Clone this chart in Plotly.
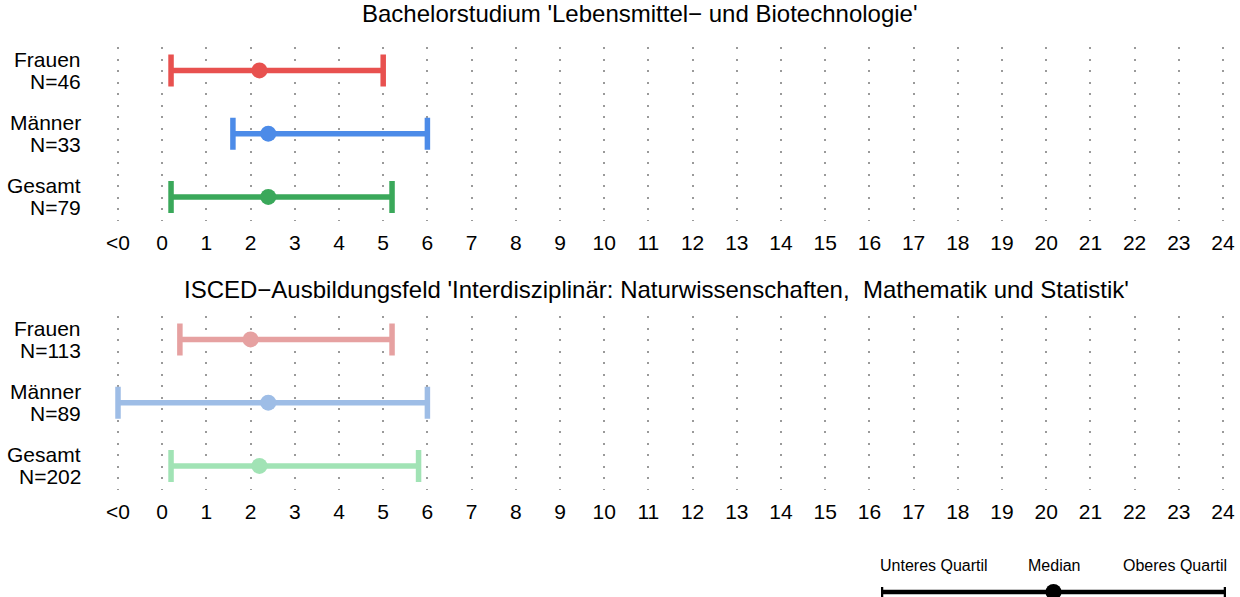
import plotly.graph_objects as go

W, H = 1240, 597

# ---------------- data ----------------
ticks = list(range(-1, 25))
tick_labels = ["<0"] + [str(i) for i in range(0, 25)]

groups = ["Frauen", "Männer", "Gesamt"]

top_title = "Bachelorstudium 'Lebensmittel− und Biotechnologie'"
top_n = [46, 33, 79]
top_lower = [0.2, 1.6, 0.2]
top_median = [2.2, 2.4, 2.4]
top_upper = [5.0, 6.0, 5.2]
top_colors = ["#E8514F", "#4C8BE8", "#3AA85A"]

bot_title = "ISCED−Ausbildungsfeld 'Interdisziplinär: Naturwissenschaften,  Mathematik und Statistik'"
bot_n = [113, 89, 202]
bot_lower = [0.4, -1.0, 0.2]
bot_median = [2.0, 2.4, 2.2]
bot_upper = [5.2, 6.0, 5.8]
bot_colors = ["#E6A1A1", "#9EBDE6", "#A1E3B5"]

legend_labels = ["Unteres Quartil", "Median", "Oberes Quartil"]
legend_vals = [0, 1, 2]

# ---------------- layout helpers ----------------
FONT = "Liberation Sans, Arial, sans-serif"
PX0 = 162.2      # pixel of value 0
PXU = 44.2       # pixels per unit
xr = [-PX0 / PXU, (W - PX0) / PXU]


def py(px):
    return 1 - px / H


def px_x(px):
    return px / W


row_y = [2, 1, 0]
yr = [-0.38, 2.37]

fig = go.Figure()
annotations = []


def add_panel(idx, lower, median, upper, colors, ns, title, dom_top, dom_bot, title_px, title_x):
    xa = "x" if idx == 1 else f"x{idx}"
    ya = "y" if idx == 1 else f"y{idx}"
    for i, g in enumerate(groups):
        fig.add_trace(go.Scatter(
            x=[median[i]], y=[row_y[i]], xaxis=xa, yaxis=ya,
            mode="markers", cliponaxis=False, showlegend=False,
            marker=dict(size=16, color=colors[i]),
            error_x=dict(type="data", symmetric=False,
                         array=[upper[i] - median[i]],
                         arrayminus=[median[i] - lower[i]],
                         color=colors[i], thickness=5.5, width=16),
        ))
        for txt, shift in ((g, 11), (f"N={ns[i]}", -11)):
            annotations.append(dict(
                x=px_x(83), xref="paper", y=row_y[i], yref=ya, yshift=shift,
                text=txt, showarrow=False,
                xanchor="right", yanchor="middle", align="right",
                font=dict(family=FONT, size=21, color="black"),
            ))
    annotations.append(dict(
        x=px_x(title_x), xref="paper", y=py(title_px), yref="paper",
        text=title, showarrow=False, xanchor="center", yanchor="middle",
        font=dict(family=FONT, size=24, color="black"),
    ))
    axis_x = dict(
        domain=[0, 1], range=xr, anchor=ya,
        tickmode="array", tickvals=ticks, ticktext=tick_labels,
        showgrid=True, gridcolor="#9A9A9A", gridwidth=2, griddash="2px,9.5px",
        zeroline=False, showline=False, ticks="",
        tickfont=dict(family=FONT, size=21, color="black"),
        ticklabelstandoff=7, fixedrange=True,
    )
    axis_y = dict(
        domain=[py(dom_bot), py(dom_top)], range=yr, anchor=xa,
        visible=False, showgrid=False, zeroline=False, fixedrange=True,
    )
    if idx == 1:
        fig.update_layout(xaxis=axis_x, yaxis=axis_y)
    else:
        fig.update_layout(**{f"xaxis{idx}": axis_x, f"yaxis{idx}": axis_y})


add_panel(1, top_lower, top_median, top_upper, top_colors, top_n, top_title, 47, 221, 14, 640)
add_panel(2, bot_lower, bot_median, bot_upper, bot_colors, bot_n, bot_title, 316, 490, 289, 657)

# ---------------- key ----------------
fig.add_trace(go.Scatter(
    x=[legend_vals[1]], y=[0], xaxis="x3", yaxis="y3",
    mode="markers", cliponaxis=False, showlegend=False,
    marker=dict(size=16, color="black"),
    error_x=dict(type="data", symmetric=False,
                 array=[legend_vals[2] - legend_vals[1]],
                 arrayminus=[legend_vals[1] - legend_vals[0]],
                 color="black", thickness=4.5, width=16),
))
fig.update_layout(
    xaxis3=dict(domain=[px_x(881), px_x(1226)], range=[legend_vals[0], legend_vals[2]],
                anchor="y3", visible=False, fixedrange=True),
    yaxis3=dict(domain=[0, 10 / H], range=[-1, 1], anchor="x3", visible=False, fixedrange=True),
)
anchors = ["left", "center", "right"]
shifts = [-3, 0, 3]
for lab, v, a, s in zip(legend_labels, legend_vals, anchors, shifts):
    annotations.append(dict(
        x=v, xref="x3", y=py(565), yref="paper", text=lab, showarrow=False,
        xanchor=a, yanchor="middle", xshift=s,
        font=dict(family=FONT, size=16, color="black"),
    ))

fig.update_layout(
    width=W, height=H, autosize=False,
    margin=dict(l=0, r=0, t=0, b=0, pad=0),
    paper_bgcolor="white", plot_bgcolor="white",
    annotations=annotations,
    font=dict(family=FONT, color="black"),
)

fig.write_html(
    "out.html",
    config={"displayModeBar": False},
    post_script="document.body.style.margin='0';document.body.style.padding='0';",
)
